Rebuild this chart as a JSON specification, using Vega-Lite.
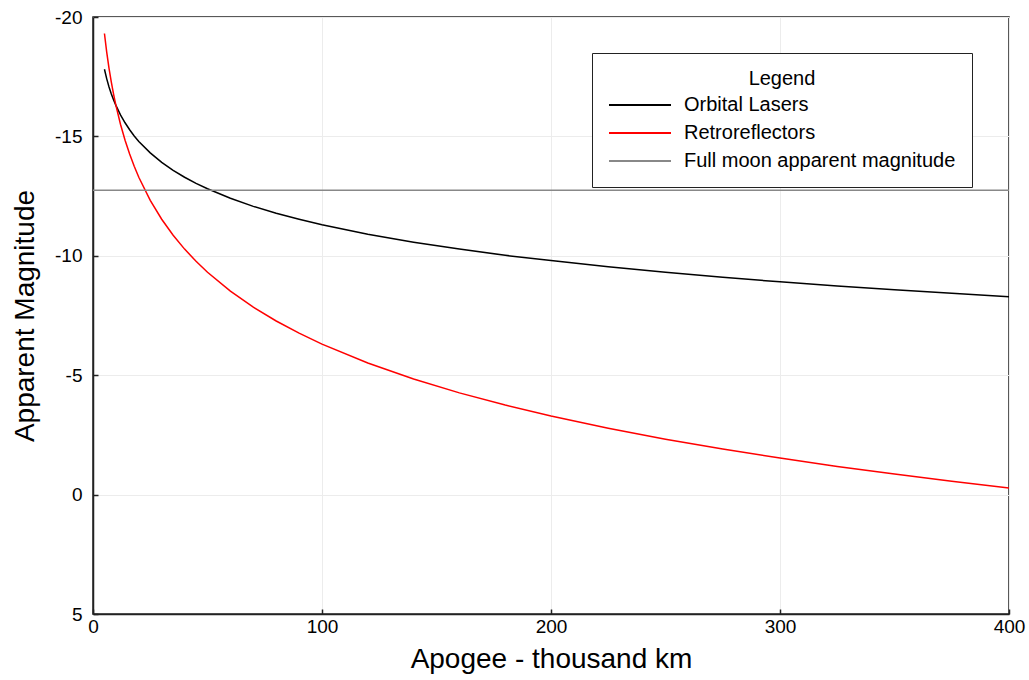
{
  "$schema": "https://vega.github.io/schema/vega-lite/v6.json",
  "width": 916,
  "height": 597,
  "autosize": {"type": "none"},
  "padding": {"left": 93, "top": 17, "right": 20, "bottom": 66},
  "background": "white",
  "config": {
    "font": "Liberation Sans",
    "view": {"stroke": "#222", "strokeWidth": 1.5}
  },
  "data": {
    "values": [
      {"apogee": 5, "mag": -17.81, "series": "Orbital Lasers"},
      {"apogee": 6, "mag": -17.41, "series": "Orbital Lasers"},
      {"apogee": 7, "mag": -17.07, "series": "Orbital Lasers"},
      {"apogee": 8, "mag": -16.78, "series": "Orbital Lasers"},
      {"apogee": 9, "mag": -16.53, "series": "Orbital Lasers"},
      {"apogee": 10, "mag": -16.30, "series": "Orbital Lasers"},
      {"apogee": 12, "mag": -15.90, "series": "Orbital Lasers"},
      {"apogee": 14, "mag": -15.57, "series": "Orbital Lasers"},
      {"apogee": 16, "mag": -15.28, "series": "Orbital Lasers"},
      {"apogee": 18, "mag": -15.02, "series": "Orbital Lasers"},
      {"apogee": 20, "mag": -14.79, "series": "Orbital Lasers"},
      {"apogee": 25, "mag": -14.31, "series": "Orbital Lasers"},
      {"apogee": 30, "mag": -13.91, "series": "Orbital Lasers"},
      {"apogee": 35, "mag": -13.58, "series": "Orbital Lasers"},
      {"apogee": 40, "mag": -13.29, "series": "Orbital Lasers"},
      {"apogee": 45, "mag": -13.03, "series": "Orbital Lasers"},
      {"apogee": 50, "mag": -12.81, "series": "Orbital Lasers"},
      {"apogee": 60, "mag": -12.41, "series": "Orbital Lasers"},
      {"apogee": 70, "mag": -12.07, "series": "Orbital Lasers"},
      {"apogee": 80, "mag": -11.78, "series": "Orbital Lasers"},
      {"apogee": 90, "mag": -11.53, "series": "Orbital Lasers"},
      {"apogee": 100, "mag": -11.30, "series": "Orbital Lasers"},
      {"apogee": 120, "mag": -10.90, "series": "Orbital Lasers"},
      {"apogee": 140, "mag": -10.57, "series": "Orbital Lasers"},
      {"apogee": 160, "mag": -10.28, "series": "Orbital Lasers"},
      {"apogee": 180, "mag": -10.02, "series": "Orbital Lasers"},
      {"apogee": 200, "mag": -9.80, "series": "Orbital Lasers"},
      {"apogee": 225, "mag": -9.54, "series": "Orbital Lasers"},
      {"apogee": 250, "mag": -9.31, "series": "Orbital Lasers"},
      {"apogee": 275, "mag": -9.10, "series": "Orbital Lasers"},
      {"apogee": 300, "mag": -8.91, "series": "Orbital Lasers"},
      {"apogee": 325, "mag": -8.74, "series": "Orbital Lasers"},
      {"apogee": 350, "mag": -8.58, "series": "Orbital Lasers"},
      {"apogee": 375, "mag": -8.43, "series": "Orbital Lasers"},
      {"apogee": 400, "mag": -8.29, "series": "Orbital Lasers"},
      {"apogee": 5, "mag": -19.31, "series": "Retroreflectors"},
      {"apogee": 6, "mag": -18.52, "series": "Retroreflectors"},
      {"apogee": 7, "mag": -17.85, "series": "Retroreflectors"},
      {"apogee": 8, "mag": -17.27, "series": "Retroreflectors"},
      {"apogee": 9, "mag": -16.76, "series": "Retroreflectors"},
      {"apogee": 10, "mag": -16.30, "series": "Retroreflectors"},
      {"apogee": 12, "mag": -15.51, "series": "Retroreflectors"},
      {"apogee": 14, "mag": -14.84, "series": "Retroreflectors"},
      {"apogee": 16, "mag": -14.26, "series": "Retroreflectors"},
      {"apogee": 18, "mag": -13.75, "series": "Retroreflectors"},
      {"apogee": 20, "mag": -13.29, "series": "Retroreflectors"},
      {"apogee": 25, "mag": -12.32, "series": "Retroreflectors"},
      {"apogee": 30, "mag": -11.53, "series": "Retroreflectors"},
      {"apogee": 35, "mag": -10.86, "series": "Retroreflectors"},
      {"apogee": 40, "mag": -10.28, "series": "Retroreflectors"},
      {"apogee": 45, "mag": -9.77, "series": "Retroreflectors"},
      {"apogee": 50, "mag": -9.31, "series": "Retroreflectors"},
      {"apogee": 60, "mag": -8.52, "series": "Retroreflectors"},
      {"apogee": 70, "mag": -7.85, "series": "Retroreflectors"},
      {"apogee": 80, "mag": -7.27, "series": "Retroreflectors"},
      {"apogee": 90, "mag": -6.76, "series": "Retroreflectors"},
      {"apogee": 100, "mag": -6.30, "series": "Retroreflectors"},
      {"apogee": 120, "mag": -5.51, "series": "Retroreflectors"},
      {"apogee": 140, "mag": -4.84, "series": "Retroreflectors"},
      {"apogee": 160, "mag": -4.26, "series": "Retroreflectors"},
      {"apogee": 180, "mag": -3.75, "series": "Retroreflectors"},
      {"apogee": 200, "mag": -3.29, "series": "Retroreflectors"},
      {"apogee": 225, "mag": -2.78, "series": "Retroreflectors"},
      {"apogee": 250, "mag": -2.32, "series": "Retroreflectors"},
      {"apogee": 275, "mag": -1.91, "series": "Retroreflectors"},
      {"apogee": 300, "mag": -1.53, "series": "Retroreflectors"},
      {"apogee": 325, "mag": -1.18, "series": "Retroreflectors"},
      {"apogee": 350, "mag": -0.86, "series": "Retroreflectors"},
      {"apogee": 375, "mag": -0.56, "series": "Retroreflectors"},
      {"apogee": 400, "mag": -0.28, "series": "Retroreflectors"},
      {"apogee": 0, "mag": -12.74, "series": "Full moon apparent magnitude"},
      {"apogee": 400, "mag": -12.74, "series": "Full moon apparent magnitude"}
    ]
  },
  "mark": {"type": "line", "strokeWidth": 1.5, "clip": true},
  "encoding": {
    "x": {
      "field": "apogee",
      "type": "quantitative",
      "scale": {"domain": [0, 400], "nice": false, "zero": false},
      "axis": {
        "title": "Apogee - thousand km",
        "titleFontSize": 28,
        "titleFontWeight": "normal",
        "titleColor": "#000",
        "titlePadding": 9,
        "values": [0, 100, 200, 300, 400],
        "labelFontSize": 19,
        "labelColor": "#000",
        "labelPadding": 8,
        "labelFlush": false,
        "labelOverlap": false,
        "tickSize": -5,
        "tickColor": "#222",
        "tickWidth": 1.5,
        "domainColor": "#222",
        "domainWidth": 1.5,
        "gridColor": "#ececec",
        "gridWidth": 1
      }
    },
    "y": {
      "field": "mag",
      "type": "quantitative",
      "scale": {"domain": [-20, 5], "reverse": true, "nice": false, "zero": false},
      "axis": {
        "title": "Apparent Magnitude",
        "titleFontSize": 28,
        "titleFontWeight": "normal",
        "titleColor": "#000",
        "titlePadding": 15,
        "values": [-20, -15, -10, -5, 0, 5],
        "labelExpr": "replace(datum.label, '−', '-')",
        "labelFontSize": 19,
        "labelColor": "#000",
        "labelPadding": 16,
        "labelFlush": false,
        "labelOverlap": false,
        "tickSize": -5,
        "tickColor": "#222",
        "tickWidth": 1.5,
        "domainColor": "#222",
        "domainWidth": 1.5,
        "gridColor": "#ececec",
        "gridWidth": 1
      }
    },
    "color": {
      "field": "series",
      "type": "nominal",
      "scale": {
        "domain": ["Orbital Lasers", "Retroreflectors", "Full moon apparent magnitude"],
        "range": ["#000000", "#ff0000", "#888888"]
      },
      "legend": {
        "title": "Legend",
        "orient": "none",
        "legendX": 499,
        "legendY": 36,
        "titleFontSize": 20,
        "titleFontWeight": "normal",
        "titleColor": "#000",
        "titleAnchor": "middle",
        "titleAlign": "center",
        "titlePadding": 5,
        "labelFontSize": 20,
        "labelColor": "#000",
        "labelOffset": 54,
        "symbolType": "M-1,0H5.2",
        "symbolSize": 400,
        "symbolStrokeWidth": 2,
        "rowPadding": 7,
        "padding": 16,
        "strokeColor": "#222",
        "fillColor": "white",
        "labelLimit": 400
      }
    }
  }
}
